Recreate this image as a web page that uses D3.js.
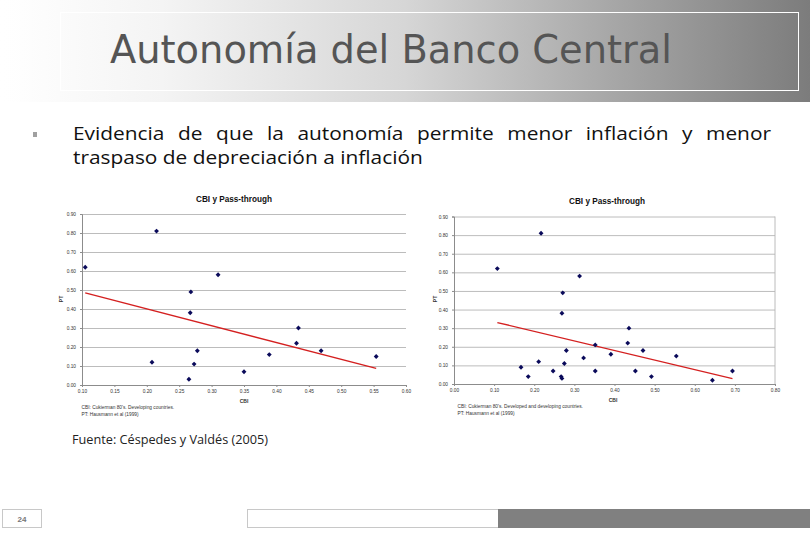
<!DOCTYPE html>
<html><head><meta charset="utf-8">
<script src="https://cdn.jsdelivr.net/npm/d3@7"></script>
<style>html,body{margin:0;padding:0;background:#fff;}svg{display:block;}</style>
</head><body>
<svg id="s" width="810" height="540"></svg>
<script>
// ---- data ----
const slideTitle = "Autonomía del Banco Central";
const bulletLine1 = "Evidencia de que la autonomía permite menor inflación y menor";
const bulletLine2 = "traspaso de depreciación a inflación";
const sourceText = "Fuente: Céspedes y Valdés (2005)";
const pageNumber = "24";
const chartTitle = "CBI y Pass-through";
const xLabel = "CBI";
const yLabel = "PT";
const leftNotes = ["CBI: Cukierman 80's. Developing countries.", "PT: Hausmann et al (1999)"];
const rightNotes = ["CBI: Cukierman 80's. Developed and developing countries.", "PT: Hausmann et al (1999)"];

const leftCBI = [0.105,0.215,0.310,0.268,0.267,0.434,0.431,0.469,0.389,0.554,0.278,0.208,0.273,0.350,0.265];
const leftPT  = [0.62, 0.81, 0.58, 0.49, 0.38, 0.30, 0.22, 0.18, 0.16, 0.15, 0.18, 0.12, 0.11, 0.07, 0.03];

const rightCBI = [0.108,0.217,0.313,0.271,0.269,0.436,0.433,0.471,0.554,0.391,0.352,0.323,0.280,0.275,0.211,0.167,0.185,0.247,0.267,0.269,0.352,0.452,0.492,0.644,0.694];
const rightPT  = [0.62, 0.81, 0.58, 0.49, 0.38, 0.30, 0.22, 0.18, 0.15, 0.16, 0.21, 0.14, 0.18, 0.11, 0.12, 0.09, 0.04, 0.07, 0.04, 0.03, 0.07, 0.07, 0.04, 0.02, 0.07];

const leftXTicks = [0.10,0.15,0.20,0.25,0.30,0.35,0.40,0.45,0.50,0.55,0.60];
const rightXTicks = [0.00,0.10,0.20,0.30,0.40,0.50,0.60,0.70,0.80];
const yTicks = [0.00,0.10,0.20,0.30,0.40,0.50,0.60,0.70,0.80,0.90];

// ---- slide ----
const svg = d3.select("#s");
const defs = svg.append("defs");
const g1 = defs.append("linearGradient").attr("id","hdr").attr("x1","0").attr("x2","1").attr("y1","0").attr("y2","0");
g1.append("stop").attr("offset","0").attr("stop-color","#ffffff");
g1.append("stop").attr("offset","0.2").attr("stop-color","#f4f4f4");
g1.append("stop").attr("offset","0.5").attr("stop-color","#d6d6d6");
g1.append("stop").attr("offset","0.75").attr("stop-color","#a8a8a8");
g1.append("stop").attr("offset","1").attr("stop-color","#7c7c7c");
const g2 = defs.append("linearGradient").attr("id","fadeL").attr("x1","0").attr("x2","1");
g2.append("stop").attr("offset","0").attr("stop-color","#fff").attr("stop-opacity",1);
g2.append("stop").attr("offset","1").attr("stop-color","#fff").attr("stop-opacity",0);

svg.append("rect").attr("x",0).attr("y",0).attr("width",810).attr("height",102).attr("fill","url(#hdr)");
svg.append("rect").attr("x",0).attr("y",0).attr("width",40).attr("height",102).attr("fill","url(#fadeL)");
svg.append("rect").attr("x",60.5).attr("y",12.5).attr("width",738).attr("height",78)
  .attr("fill","none").attr("stroke","#ffffff").attr("stroke-width",1);

svg.append("text").text(slideTitle).attr("x",110).attr("y",63)
  .attr("font-family","'DejaVu Sans Condensed','DejaVu Sans',sans-serif").attr("font-size",39)
  .attr("fill","#555555").attr("textLength",562).attr("lengthAdjust","spacingAndGlyphs");

const FONT = "'Open Sans','DejaVu Sans',sans-serif";
const FS = 18;
svg.append("rect").attr("x",33).attr("y",132).attr("width",4).attr("height",5).attr("fill","#a0a0a0");
const bg = svg.append("g");
const l2 = bg.append("text").text(bulletLine2).attr("x",0).attr("y",164)
  .attr("font-family",FONT).attr("font-size",FS).attr("fill","#111");
const l1 = bg.append("text").text(bulletLine1).attr("x",0).attr("y",140)
  .attr("font-family",FONT).attr("font-size",FS).attr("fill","#111");
{
  const w2 = l2.node().getComputedTextLength();
  const r = 350 / w2;               // horizontal stretch to match reference glyph widths
  bg.attr("transform", `translate(73,0) scale(${r},1)`);
  const nat = l1.node().getComputedTextLength();
  const target = 698 / r;
  const spaces = (bulletLine1.match(/ /g)||[]).length;
  if (nat < target) l1.attr("word-spacing", (target - nat)/spaces);
  else l1.attr("textLength",target).attr("lengthAdjust","spacingAndGlyphs");
}

svg.append("text").text(sourceText).attr("x",72).attr("y",444)
  .attr("font-family",FONT).attr("font-size",12).attr("fill","#222")
  .attr("textLength",196).attr("lengthAdjust","spacingAndGlyphs");

// footer
svg.append("rect").attr("x",2.5).attr("y",509.5).attr("width",39).attr("height",18).attr("fill","#fff").attr("stroke","#c8c8c8");
svg.append("text").text(pageNumber).attr("x",22).attr("y",521.5).attr("text-anchor","middle")
  .attr("font-family","'Liberation Sans',Arial,sans-serif").attr("font-size",8).attr("font-weight","bold").attr("fill","#777");
svg.append("rect").attr("x",247.5).attr("y",509.5).attr("width",251).attr("height",18).attr("fill","#fff").attr("stroke","#c8c8c8");
svg.append("rect").attr("x",498).attr("y",509).attr("width",312).attr("height",19).attr("fill","#808080");

// ---- charts ----
function regression(xs, ys){
  const n = xs.length, mx = d3.mean(xs), my = d3.mean(ys);
  let sxy=0, sxx=0;
  for(let i=0;i<n;i++){ sxy += (xs[i]-mx)*(ys[i]-my); sxx += (xs[i]-mx)*(xs[i]-mx); }
  const b = sxy/sxx, a = my - b*mx;
  return x => a + b*x;
}

function drawChart(o){
  const g = svg.append("g");
  const x = d3.scaleLinear().domain(o.xDomain).range([o.x0,o.x1]);
  const y = d3.scaleLinear().domain([0,0.9]).range([o.y0,o.y1]);
  const fmt = d3.format(".2f");
  const AF = "'Liberation Sans',Arial,sans-serif";
  g.append("g").attr("transform",`translate(${o.x0},0)`)
    .call(d3.axisLeft(y).tickValues(yTicks.slice(1)).tickSize(-(o.x1-o.x0)).tickFormat(""))
    .call(s=>s.select(".domain").remove())
    .call(s=>s.selectAll("line").attr("stroke","#b4b4b4").attr("stroke-width",0.9));
  g.append("g").attr("transform",`translate(${o.x0},0)`)
    .call(d3.axisLeft(y).tickValues(yTicks).tickSize(2).tickPadding(4).tickFormat(fmt))
    .call(s=>s.select(".domain").attr("stroke","#8c8c8c"))
    .call(s=>s.selectAll("line").attr("stroke","#8c8c8c"))
    .call(s=>s.selectAll("text").attr("font-size",4.8).attr("font-family",AF).attr("fill","#333"));
  g.append("g").attr("transform",`translate(0,${o.y0})`)
    .call(d3.axisBottom(x).tickValues(o.xTicks).tickSize(2).tickPadding(3).tickFormat(fmt))
    .call(s=>s.select(".domain").attr("stroke","#8c8c8c"))
    .call(s=>s.selectAll("line").attr("stroke","#8c8c8c"))
    .call(s=>s.selectAll("text").attr("font-size",4.8).attr("font-family",AF).attr("fill","#333"));
  if(o.rightBorder){
    g.append("line").attr("x1",o.x1).attr("x2",o.x1).attr("y1",o.y1).attr("y2",o.y0).attr("stroke","#b4b4b4").attr("stroke-width",0.9);
  }
  g.append("text").text(chartTitle).attr("x",o.titleX).attr("y",o.titleY).attr("text-anchor","middle")
    .attr("font-family",AF).attr("font-weight","bold").attr("font-size",8.2).attr("fill","#111");
  g.append("text").text(yLabel).attr("transform",`translate(${o.yLabX},${o.yLabY}) rotate(-90)`).attr("text-anchor","middle")
    .attr("font-family",AF).attr("font-weight","bold").attr("font-size",5).attr("fill","#333");
  g.append("text").text(xLabel).attr("x",o.xLabX).attr("y",o.xLabY).attr("text-anchor","middle")
    .attr("font-family",AF).attr("font-weight","bold").attr("font-size",5).attr("fill","#333");
  o.notes.forEach((t,i)=>{
    g.append("text").text(t).attr("x",o.noteX).attr("y",o.noteY+i*6.6)
      .attr("font-family",AF).attr("font-size",4.8).attr("fill","#333");
  });
  const f = regression(o.xs,o.ys);
  const xe = d3.extent(o.xs);
  g.append("line").attr("x1",x(xe[0])).attr("y1",y(f(xe[0]))).attr("x2",x(xe[1])).attr("y2",y(f(xe[1])))
    .attr("stroke","#d42020").attr("stroke-width",1.3);
  const sym = d3.symbol(d3.symbolDiamond2, 15);
  g.selectAll("path.pt").data(o.xs.map((v,i)=>[v,o.ys[i]])).join("path").attr("class","pt")
    .attr("d",sym).attr("transform",d=>`translate(${x(d[0])},${y(d[1])})`).attr("fill","#0a0a5a");
}

drawChart({xDomain:[0.10,0.60], xTicks:leftXTicks, x0:82, x1:406, y0:385, y1:214,
  xs:leftCBI, ys:leftPT, rightBorder:false,
  titleX:234, titleY:202, yLabX:62.5, yLabY:299, xLabX:244, xLabY:403,
  noteX:81.5, noteY:409, notes:leftNotes});

drawChart({xDomain:[0.00,0.80], xTicks:rightXTicks, x0:454, x1:775, y0:384, y1:216.5,
  xs:rightCBI, ys:rightPT, rightBorder:true,
  titleX:607, titleY:203.5, yLabX:437, yLabY:299, xLabX:613, xLabY:402,
  noteX:457.5, noteY:408, notes:rightNotes});
</script>
</body></html>
